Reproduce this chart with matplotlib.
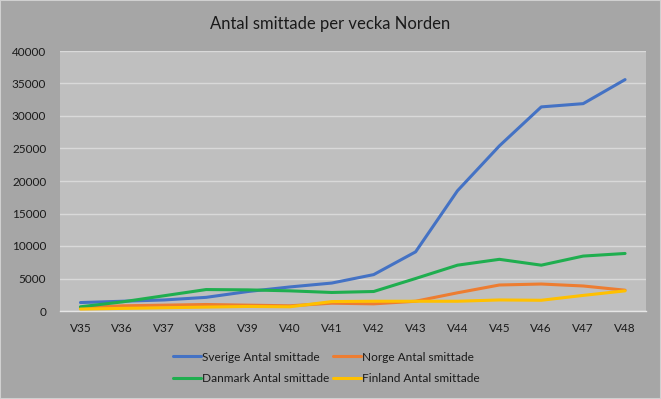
import matplotlib
matplotlib.use("Agg")
import matplotlib.pyplot as plt
from matplotlib.patches import Rectangle

weeks = ["V35", "V36", "V37", "V38", "V39", "V40", "V41", "V42", "V43", "V44", "V45", "V46", "V47", "V48"]
sverige = [1300, 1500, 1700, 2100, 3000, 3700, 4300, 5600, 9100, 18500, 25400, 31400, 31900, 35600]
norge = [500, 800, 900, 1000, 900, 800, 1200, 1100, 1500, 2800, 4000, 4150, 3850, 3200]
danmark = [650, 1400, 2350, 3300, 3250, 3100, 2850, 3000, 5000, 7050, 7950, 7050, 8450, 8850]
finland = [300, 400, 500, 600, 700, 650, 1450, 1500, 1500, 1500, 1700, 1650, 2400, 3100]
yticks = [0, 5000, 10000, 15000, 20000, 25000, 30000, 35000, 40000]

series = [
    ("Sverige Antal smittade", sverige, "#4472C4"),
    ("Norge Antal smittade", norge, "#ED7D31"),
    ("Danmark Antal smittade", danmark, "#1FAE4F"),
    ("Finland Antal smittade", finland, "#FFC000"),
]

plt.rcParams['font.family'] = ['Lato', 'DejaVu Sans']

fig = plt.figure(figsize=(6.61, 3.99), dpi=100, facecolor="#A6A6A6")
ax = fig.add_axes([59.5 / 661, 1 - 311 / 399, (646 - 59.5) / 661, (311 - 51) / 399])
ax.set_facecolor("#BFBFBF")

x = list(range(len(weeks)))
handles = []
for label, vals, color in series:
    h, = ax.plot(x, vals, color=color, lw=2.2, label=label, solid_capstyle="round", solid_joinstyle="round", zorder=3)
    handles.append(h)

ax.set_xlim(-0.5, len(weeks) - 0.5)
ax.set_ylim(0, 40000)
ax.set_yticks(yticks)
ax.set_yticklabels([str(v) for v in yticks])
ax.set_xticks(x)
ax.set_xticklabels(weeks)
ax.tick_params(axis="both", length=0, labelsize=8.5, colors="#1A1A1A")
ax.tick_params(axis="y", pad=9.5)
ax.tick_params(axis="x", pad=9)
ax.grid(axis="y", color="#D9D9D9", lw=1.0, zorder=1)
for s in ["top", "right", "left"]:
    ax.spines[s].set_visible(False)
ax.spines["bottom"].set_color("#E6E6E6")
ax.spines["bottom"].set_linewidth(1.0)

fig.text(0.5, 1 - 24 / 399, "Antal smittade per vecka Norden", ha="center", va="center",
         fontsize=12, color="#1A1A1A")

# row-wise order: Sverige, Norge / Danmark, Finland (matplotlib fills columns first)
leg_order = [handles[0], handles[2], handles[1], handles[3]]
leg = fig.legend(handles=leg_order, loc="center", bbox_to_anchor=(0.494, 1 - 368 / 399), ncol=2,
                 frameon=False, fontsize=8.6, handlelength=2.3, handletextpad=0.15,
                 columnspacing=0.3, labelspacing=0.9)
for t in leg.get_texts():
    t.set_color("#1A1A1A")

fig.patches.append(Rectangle((0, 0), 1, 1, transform=fig.transFigure, fill=False,
                             edgecolor="#D0D0D0", lw=1.5))

fig.savefig("out.png", dpi=100, facecolor=fig.get_facecolor())
